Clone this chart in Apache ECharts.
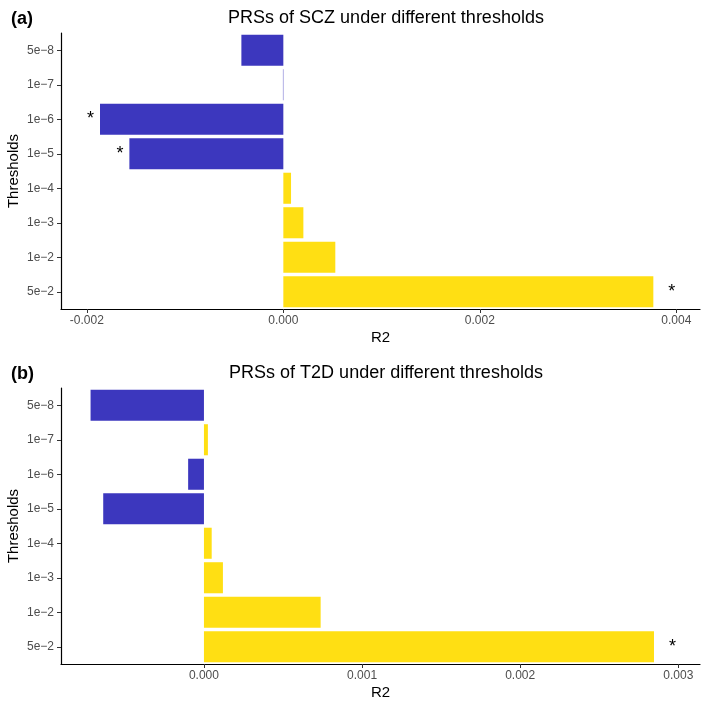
<!DOCTYPE html>
<html>
<head>
<meta charset="utf-8">
<script src="https://cdn.jsdelivr.net/npm/echarts@6/dist/echarts.min.js"></script>
<style>
html,body{margin:0;padding:0;background:#fff;}
#chart{width:709px;height:709px;}
</style>
</head>
<body>
<div id="chart"></div>
<script>
// ---- data ----
const categories = ['5e−8', '1e−7', '1e−6', '1e−5', '1e−4', '1e−3', '1e−2', '5e−2'];
const sczR2 = [-0.000427, -0.000004, -0.001866, -0.001567, 0.0000784, 0.000204, 0.000529, 0.003766];
const sczSig = [false, false, true, true, false, false, false, true];
const t2dR2 = [-0.000717, 0.000025, -0.000100, -0.000637, 0.000049, 0.000120, 0.000738, 0.002846];
const t2dSig = [false, false, false, false, false, false, false, true];
const sczTicks = [-0.002, 0, 0.002, 0.004];
const t2dTicks = [0, 0.001, 0.002, 0.003];
const panelTitles = ['PRSs of SCZ under different thresholds', 'PRSs of T2D under different thresholds'];
const panelTags = ['(a)', '(b)'];

// ---- styling ----
const FONT = 'Liberation Sans, Arial, Helvetica, sans-serif';
const BLUE = '#3C37BE';
const YELLOW = '#FFDF13';
const panelOffset = 355;
const sczRange = [-0.002263, 0.004241];
const t2dRange = [-0.000904, 0.003137];

function barData(vals, sig) {
  return vals.map((v, i) => ({
    value: v,
    itemStyle: { color: v < 0 ? BLUE : YELLOW },
    label: {
      show: sig[i],
      position: v < 0 ? 'left' : 'right',
      distance: v < 0 ? 6 : 15,
      formatter: '*',
      color: '#000',
      fontSize: 18,
      fontFamily: FONT
    }
  }));
}

function xAxisCfg(gridIndex, range, ticks) {
  return {
    type: 'value', gridIndex, min: range[0], max: range[1],
    name: 'R2', nameLocation: 'middle', nameGap: 21, nameMoveOverlap: false,
    nameTextStyle: { color: '#000', fontSize: 15, fontFamily: FONT },
    splitLine: { show: false },
    axisLine: { show: true, onZero: false, lineStyle: { color: '#000', width: 1.2 } },
    axisTick: { show: true, length: 4, customValues: ticks, lineStyle: { color: '#333' } },
    axisLabel: {
      customValues: ticks, margin: 6, color: '#4D4D4D', fontSize: 12, fontFamily: FONT,
      formatter: v => v.toFixed(3)
    }
  };
}

function yAxisCfg(gridIndex) {
  return {
    type: 'category', gridIndex, data: categories, inverse: true,
    name: 'Thresholds', nameLocation: 'middle', nameGap: 40, nameMoveOverlap: false,
    nameTextStyle: { color: '#000', fontSize: 15, fontFamily: FONT },
    axisLine: { show: true, onZero: false, lineStyle: { color: '#000', width: 1.2 } },
    axisTick: { show: true, length: 4, alignWithLabel: true, lineStyle: { color: '#333' } },
    axisLabel: { margin: 7, color: '#4D4D4D', fontSize: 12, fontFamily: FONT },
    splitLine: { show: false }
  };
}

const chart = echarts.init(document.getElementById('chart'), null, { renderer: 'canvas' });
chart.setOption({
  backgroundColor: '#fff',
  animation: false,
  title: [0, 1].flatMap(i => [
    { text: panelTitles[i], left: 381, top: 4 + i * panelOffset, textAlign: 'center',
      textStyle: { fontSize: 18, fontWeight: 'normal', color: '#000', fontFamily: FONT } },
    { text: panelTags[i], left: 6, top: 5 + i * panelOffset,
      textStyle: { fontSize: 18, fontWeight: 'bold', color: '#000', fontFamily: FONT } }
  ]),
  grid: [
    { left: 61, right: 9, top: 33, height: 276, containLabel: false, outerBoundsMode: 'none' },
    { left: 61, right: 9, top: 33 + panelOffset, height: 276, containLabel: false, outerBoundsMode: 'none' }
  ],
  xAxis: [xAxisCfg(0, sczRange, sczTicks), xAxisCfg(1, t2dRange, t2dTicks)],
  yAxis: [yAxisCfg(0), yAxisCfg(1)],
  series: [
    { type: 'bar', xAxisIndex: 0, yAxisIndex: 0, data: barData(sczR2, sczSig), barCategoryGap: '10%' },
    { type: 'bar', xAxisIndex: 1, yAxisIndex: 1, data: barData(t2dR2, t2dSig), barCategoryGap: '10%' }
  ]
});
</script>
</body>
</html>
